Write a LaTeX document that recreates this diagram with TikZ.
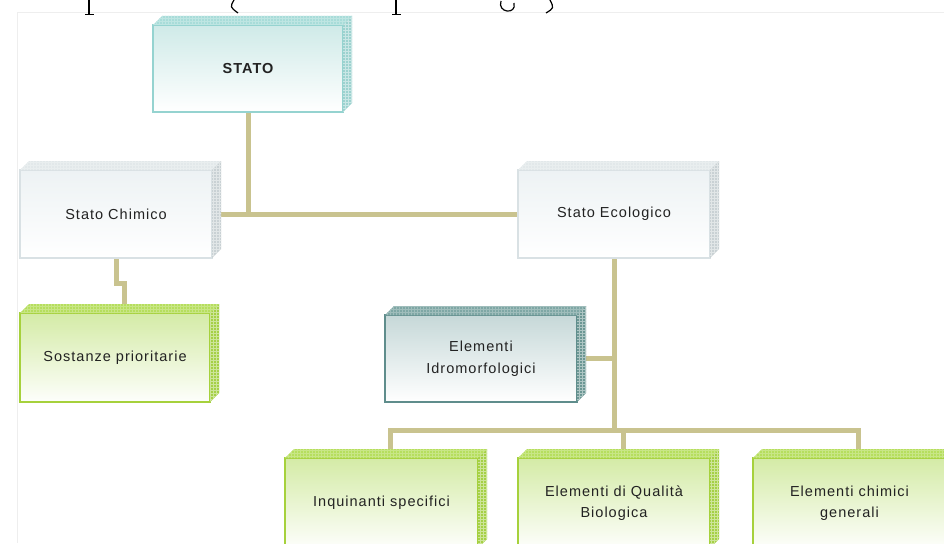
\documentclass[tikz,border=0pt]{standalone}
\usepackage{fontspec}
\newfontfamily\lab[LetterSpace=7]{Liberation Sans}
\usetikzlibrary{patterns,calc}
\pgfdeclarelayer{bg}\pgfsetlayers{bg,main}
\definecolor{connc}{HTML}{C9C38F}
\definecolor{txt}{HTML}{222222}
\definecolor{framec}{HTML}{EEEEEE}
% teal
\definecolor{tealfront}{HTML}{CFEAE8}
\definecolor{tealborder}{HTML}{95D3D0}
\definecolor{tealtop}{HTML}{A8DCD9}
\definecolor{tealside}{HTML}{9CD2CF}
% gray
\definecolor{grayfront}{HTML}{EDF2F4}
\definecolor{grayborder}{HTML}{D9E1E4}
\definecolor{graytop}{HTML}{E2E8EA}
\definecolor{grayside}{HTML}{C9D1D4}
% green
\definecolor{greenfront}{HTML}{D4EBA6}
\definecolor{greenborder}{HTML}{A6D13C}
\definecolor{greentop}{HTML}{B6DE5E}
\definecolor{greenside}{HTML}{A5D046}
% dark teal
\definecolor{darkfront}{HTML}{C6D8D8}
\definecolor{darkborder}{HTML}{5F8D8C}
\definecolor{darktop}{HTML}{7FA7A5}
\definecolor{darkside}{HTML}{6C9794}
\tikzset{
  box/.style={draw, line width=1.3pt, outer sep=0pt, inner sep=2pt, align=center,
    text=txt, font=\lab\fontsize{14.5}{21.5}\selectfont,
    minimum width=192pt, minimum height=88pt},
  tealbox/.style={box, draw=tealborder, top color=tealfront, bottom color=white},
  graybox/.style={box, draw=grayborder, top color=grayfront, bottom color=white},
  greenbox/.style={box, draw=greenborder, top color=greenfront, bottom color=white!96!greenfront},
  darkbox/.style={box, draw=darkborder, top color=darkfront, bottom color=white},
  conn/.style={draw=connc, line width=5pt},
  frag/.style={draw=black, line width=1.4pt},
}
\newcommand\cubefaces[3]{%
  \path[fill=#2] (#1.north west) -- ++(9,-9) -- ($(#1.north east)+(9,-9)$) -- (#1.north east) -- cycle;
  \path[pattern=grid, pattern color=white!25!#2] (#1.north west) -- ++(9,-9) -- ($(#1.north east)+(9,-9)$) -- (#1.north east) -- cycle;
  \path[fill=#3] (#1.north east) -- ++(9,-9) -- ($(#1.south east)+(9,-9)$) -- (#1.south east) -- cycle;
  \path[pattern=grid, pattern color=white!45!#3] (#1.north east) -- ++(9,-9) -- ($(#1.south east)+(9,-9)$) -- (#1.south east) -- cycle;
  \coordinate (#1T) at ($(#1.north)+(9,-9)$);
}
\begin{document}
\begin{tikzpicture}[x=1pt,y=-1pt]
\useasboundingbox (0,0) rectangle (944,543);
\clip (0,0) rectangle (944,543);
\begin{pgfonlayer}{bg}
\fill[white] (0,0) rectangle (944,543);
\draw[framec, line width=1pt] (17,543) -- (17,13) -- (944,13);
\end{pgfonlayer}
% cut-off line of text at the top edge
\draw[frag] (89,0) -- (89,14);
\draw[frag, line width=0.9pt] (85,14.5) -- (94,14.5);
\draw[frag, line width=1.2pt] (234,0) .. controls (230,7) .. (238,13);
\draw[frag] (396,0) -- (396,14);
\draw[frag, line width=0.9pt] (392,14.5) -- (401,14.5);
\draw[frag, line width=1.2pt] (501,1) .. controls (497,13) and (517,15) .. (514,3);
\draw[frag, line width=1.2pt] (550,0) .. controls (554,8) .. (546,13);

% boxes
\node[tealbox, minimum width=190pt, minimum height=87pt, font=\lab\bfseries\fontsize{14.5}{21}\selectfont] (stato) at (248,68.5) {STATO};
\cubefaces{stato}{tealtop}{tealside}
\node[graybox] (chim) at (116,214) {Stato Chimico};
\cubefaces{chim}{graytop}{grayside}
\node[graybox] (eco) at (614,214) {Stato Ecologico};
\cubefaces{eco}{graytop}{grayside}
\node[greenbox, minimum width=190pt, minimum height=89pt] (sost) at (115,357.5) {Sostanze prioritarie};
\cubefaces{sost}{greentop}{greenside}
\node[darkbox, minimum height=87pt] (idro) at (481,358.5) {Elementi\\Idromorfologici};
\cubefaces{idro}{darktop}{darkside}
\node[greenbox, minimum width=193pt, minimum height=90pt] (inq) at (381.5,503) {Inquinanti specifici};
\cubefaces{inq}{greentop}{greenside}
\node[greenbox, minimum height=90pt] (bio) at (614,503) {Elementi di Qualità\\Biologica};
\cubefaces{bio}{greentop}{greenside}
\node[greenbox, minimum width=193pt, minimum height=90pt] (chimg) at (849.5,503) {Elementi chimici\\generali};
\cubefaces{chimg}{greentop}{greenside}

\coordinate (hub) at (614,430);
\begin{pgfonlayer}{bg}
\draw[conn] (stato.south) -- (stato.south |- chim.east);
\draw[conn] (chim.east) -- (eco.west);
\draw[conn] (chim.south) -- ++(0,25) -| (sostT);
\draw[conn] (eco.south) -- (hub);
\draw[conn] (idro.east) -- (idro.east -| eco.south);
\draw[conn] (inqT) |- (hub) -| (chimgT);
\draw[conn] (bioT) -- (bioT |- hub);
\end{pgfonlayer}
\end{tikzpicture}
\end{document}
